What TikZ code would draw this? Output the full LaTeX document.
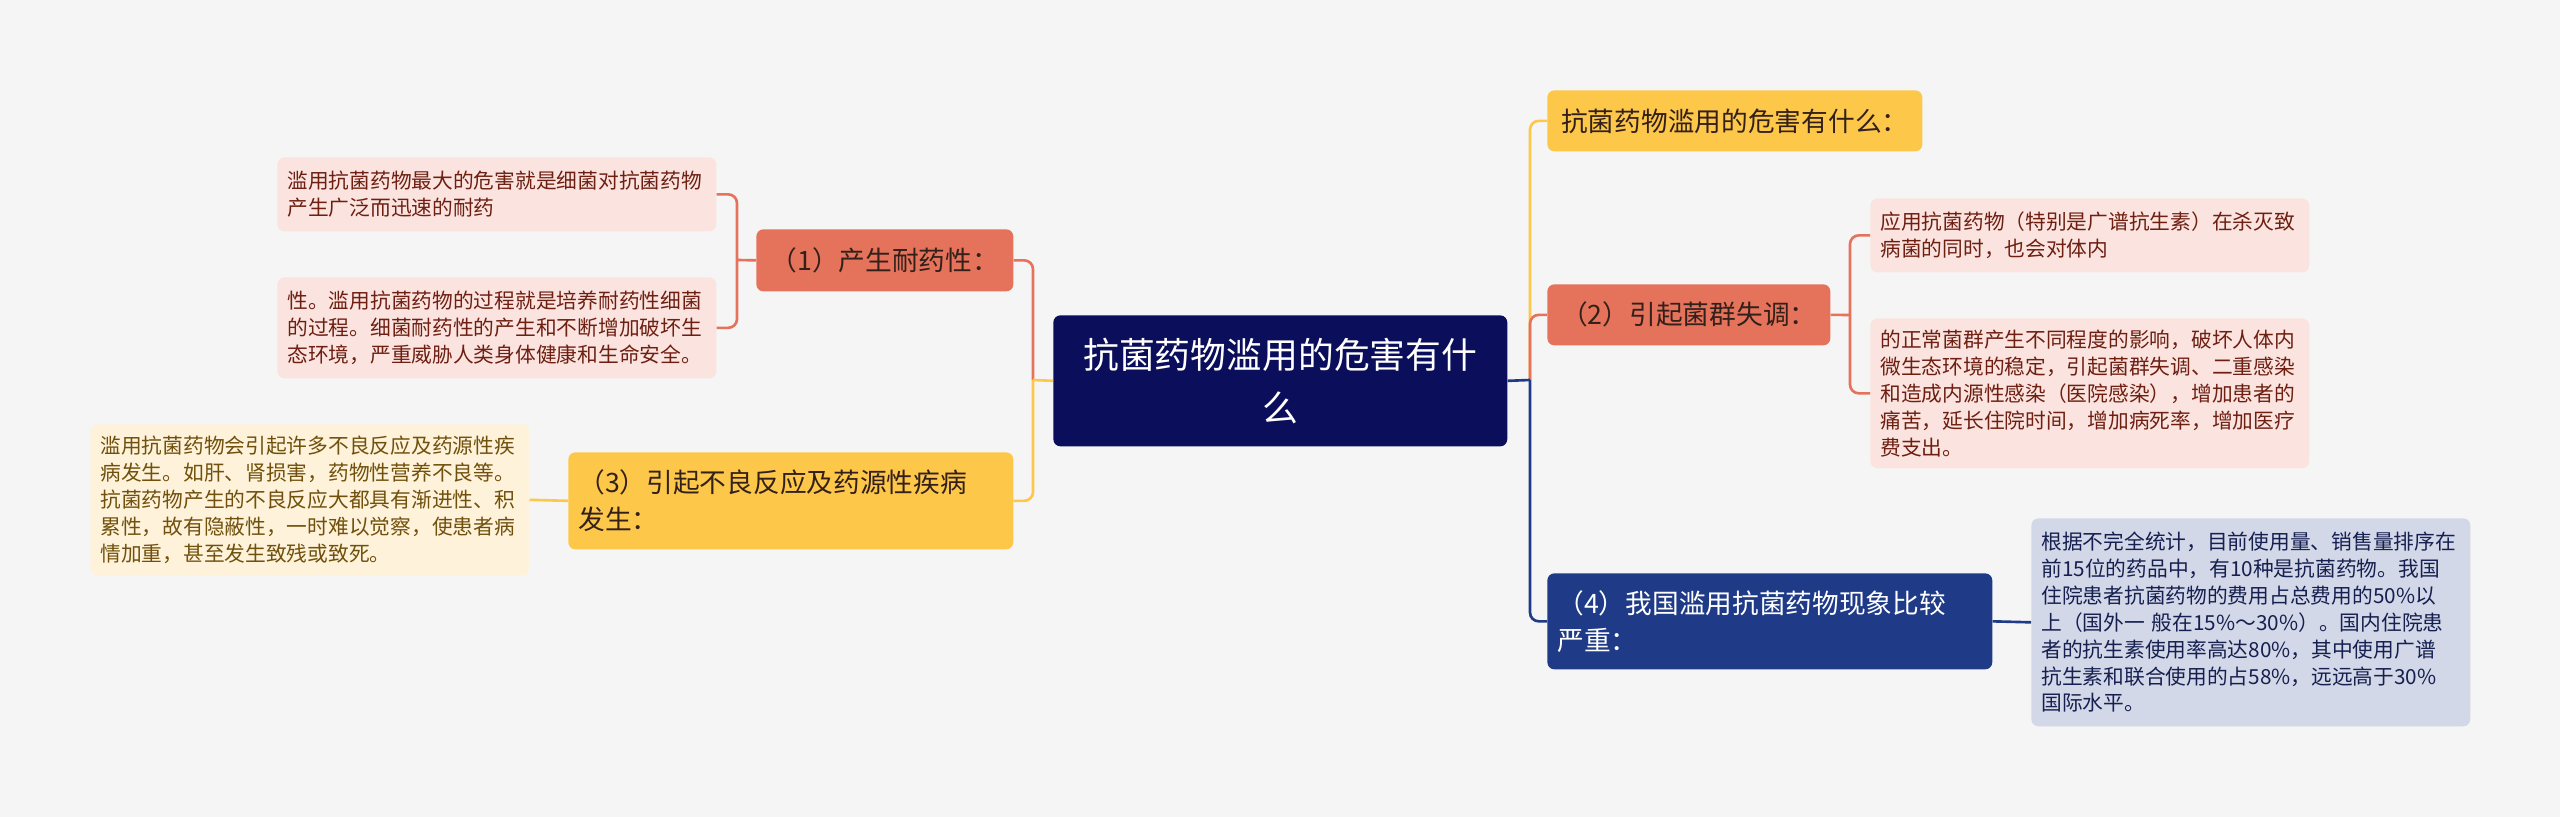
\documentclass[tikz,border=0pt]{standalone}
\usepackage{fontspec}
\setmainfont{Noto Sans CJK SC}

\definecolor{bgcol}{HTML}{F5F5F5}
\definecolor{rootcol}{HTML}{0B0E5A}
\definecolor{coralcol}{HTML}{E5735B}
\definecolor{goldcol}{HTML}{FDC74A}
\definecolor{navycol}{HTML}{1F3B87}
\definecolor{pinkfill}{HTML}{FBE4DF}
\definecolor{creamfill}{HTML}{FEF3DA}
\definecolor{greyblue}{HTML}{D3D8E8}
\definecolor{redtext}{HTML}{6E1F12}
\definecolor{browntext}{HTML}{70500C}
\definecolor{navytext}{HTML}{162050}
\definecolor{darktext}{HTML}{33201A}

\tikzset{
  box/.style={anchor=north west, rounded corners=4pt, inner ysep=0pt},
  rootbox/.style={box, fill=rootcol, text=white, minimum width=9.08cm, minimum height=2.62cm,
    text width=8.6cm, align=center, font=\fontsize{20.4pt}{30pt}\selectfont},
  topic/.style={box, text=darktext, minimum height=1.22cm, font=\fontsize{15.2pt}{21pt}\selectfont},
  leaf/.style={box, text width=8.38cm, inner xsep=0.2cm, align=left, font=\fontsize{11.8pt}{15.3pt}\selectfont},
  link/.style={line width=1.5pt, rounded corners=5pt},
}

\begin{document}
\begin{tikzpicture}[x=0.02cm, y=-0.02cm]

\fill[bgcol] (0,0) rectangle (2560,817);
\useasboundingbox (0,0) rectangle (2560,817);

% centre
\node[rootbox] (root) at (1053,315) {抗菌药物滥用的危害有什\\么};

% left side
\node[topic, fill=coralcol, minimum width=5.14cm, minimum height=1.24cm] (res) at (756,229) {（1）产生耐药性：};
\node[topic, fill=goldcol, text width=8.5cm, inner xsep=0.2cm, align=left, minimum height=1.94cm] (adv) at (568,452) {（3）引起不良反应及药源性疾病\\发生：};

\node[leaf, fill=pinkfill, text=redtext, minimum height=1.48cm] (res1) at (277,157) {滥用抗菌药物最大的危害就是细菌对抗菌药物\\产生广泛而迅速的耐药};
\node[leaf, fill=pinkfill, text=redtext, minimum height=2.02cm] (res2) at (277,277) {性。滥用抗菌药物的过程就是培养耐药性细菌\\的过程。细菌耐药性的产生和不断增加破坏生\\态环境，严重威胁人类身体健康和生命安全。};
\node[leaf, fill=creamfill, text=browntext, minimum height=3.02cm] (adv1) at (90,424) {滥用抗菌药物会引起许多不良反应及药源性疾\\病发生。如肝、肾损害，药物性营养不良等。\\抗菌药物产生的不良反应大都具有渐进性、积\\累性，故有隐蔽性，一时难以觉察，使患者病\\情加重，甚至发生致残或致死。};

% right side
\node[topic, fill=goldcol, minimum width=7.5cm] (q) at (1547,90) {抗菌药物滥用的危害有什么：};
\node[topic, fill=coralcol, minimum width=5.66cm] (flora) at (1547,284) {（2）引起菌群失调：};
\node[topic, fill=navycol, text=white, text width=8.5cm, inner xsep=0.2cm, align=left, minimum height=1.92cm] (cn) at (1547,573) {（4）我国滥用抗菌药物现象比较\\严重：};

\node[leaf, fill=pinkfill, text=redtext, minimum height=1.48cm] (flora1) at (1870,198) {应用抗菌药物（特别是广谱抗生素）在杀灭致\\病菌的同时，也会对体内};
\node[leaf, fill=pinkfill, text=redtext, minimum height=3.0cm] (flora2) at (1870,318) {的正常菌群产生不同程度的影响，破坏人体内\\微生态环境的稳定，引起菌群失调、二重感染\\和造成内源性感染（医院感染），增加患者的\\痛苦，延长住院时间，增加病死率，增加医疗\\费支出。};
\node[leaf, fill=greyblue, text=navytext, minimum height=4.16cm] (cn1) at (2031,518) {根据不完全统计，目前使用量、销售量排序在\\前15位的药品中，有10种是抗菌药物。我国\\住院患者抗菌药物的费用占总费用的50\%以\\上（国外一 般在15\%～30\%）。国内住院患\\者的抗生素使用率高达80\%，其中使用广谱\\抗生素和联合使用的占58\%，远远高于30\%\\国际水平。};

% connectors left
\coordinate (tl) at (1033,380);
\coordinate (bl) at (737,260);
\draw[link, coralcol] (tl) |- (res.east);
\draw[link, goldcol] (root.west) -- (tl);
\draw[link, goldcol] (tl) |- (adv.east);
\draw[link, coralcol] (res.west) -- (bl);
\draw[link, coralcol] (bl) |- (res1.east);
\draw[link, coralcol] (bl) |- (res2.east);
\draw[link, goldcol] (adv.west) -- (adv1.east);

% connectors right
\coordinate (tr) at (1530,380);
\coordinate (br) at (1850,315);
\draw[link, goldcol] (tr) |- (q.west);
\draw[link, coralcol] (tr) |- (flora.west);
\draw[link, navycol] (root.east) -- (tr);
\draw[link, navycol] (tr) |- (cn.west);
\draw[link, coralcol] (flora.east) -- (br);
\draw[link, coralcol] (br) |- (flora1.west);
\draw[link, coralcol] (br) |- (flora2.west);
\draw[link, navycol] (cn.east) -- (cn1.west);

\end{tikzpicture}
\end{document}
